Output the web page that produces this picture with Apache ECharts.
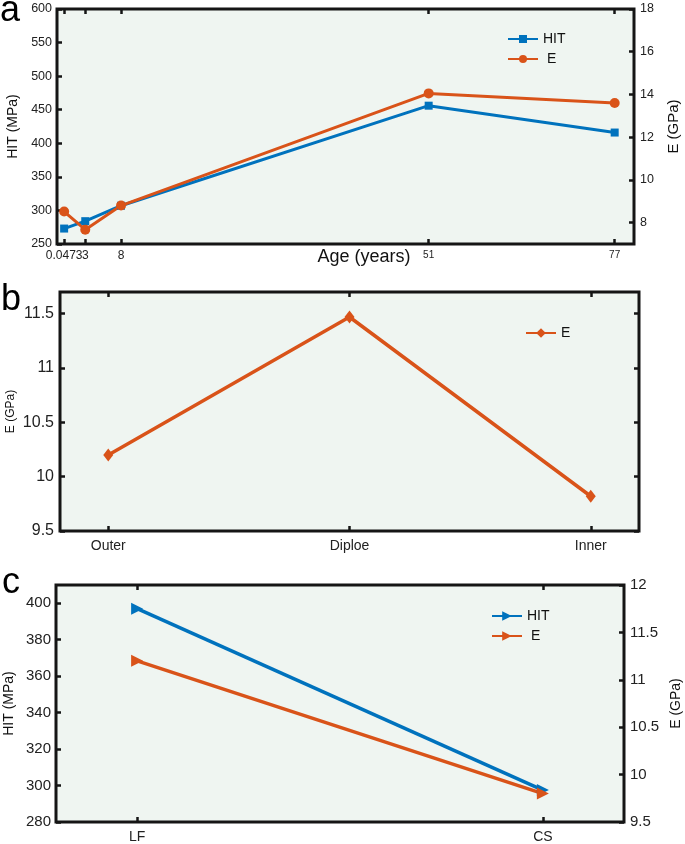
<!DOCTYPE html>
<html>
<head>
<meta charset="utf-8">
<script src="https://cdn.jsdelivr.net/npm/echarts@6/dist/echarts.min.js"></script>
<style>
html,body{margin:0;padding:0;background:#fff;}
#chart{width:685px;height:844px;}
</style>
</head>
<body>
<div id="chart"></div>
<script>
// ---- Panel a data ----
const ages = [0.0473, 3, 8, 51, 77];
const hitA = [273, 284, 307, 456, 416];
const eA = [8.52, 7.67, 8.8, 14.05, 13.6];
const hitTicksA = [250, 300, 350, 400, 450, 500, 550, 600];
const eTicksA = [8, 10, 12, 14, 16, 18];

// ---- Panel b data ----
const layers = ['Outer', 'Diploe', 'Inner'];
const eB = [10.2, 11.47, 9.82];
const eTicksB = [9.5, 10, 10.5, 11, 11.5];

// ---- Panel c data ----
const sites = ['LF', 'CS'];
const hitC = [397, 297.5];
const eC = [11.2, 9.8];
const hitTicksC = [280, 300, 320, 340, 360, 380, 400];
const eTicksC = [9.5, 10, 10.5, 11, 11.5, 12];

const BLUE = '#0072BD';
const ORANGE = '#D95319';
const FONT = '"Liberation Sans", Arial, Helvetica, sans-serif';
const INK = '#151515';

function tick(vals) {
  return { show: true, inside: true, length: 5, customValues: vals,
           lineStyle: { color: INK, width: 2.5 } };
}
function lbl(vals, size, margin, extra) {
  return Object.assign({ show: true, customValues: vals, margin: margin, hideOverlap: false,
    color: '#222', fontSize: size, fontFamily: FONT }, extra || {});
}
const noLbl = { show: false };
const noTick = { show: false };
const noLine = { show: false, onZero: false };
const noSplit = { show: false };

function gridOf(left, top, width, height) {
  return { left, top, width, height, show: true, backgroundColor: '#eff5f1',
           borderColor: INK, borderWidth: 3, containLabel: false, outerBoundsMode: 'none' };
}

const idxB = layers.map((_, i) => i);
const idxC = sites.map((_, i) => i);
const ageFmt = v => (v >= 51 ? '{s|' + v + '}' : String(v));
const ageRich = { s: { fontSize: 10, fontFamily: FONT, color: '#222' } };

const option = {
  animation: false,
  graphic: [
    { type: 'text', left: 0, top: -7, style: { text: 'a', font: '36px ' + FONT, fill: '#000' } },
    { type: 'text', left: 1, top: 282, style: { text: 'b', font: '36px ' + FONT, fill: '#000' } },
    { type: 'text', left: 2, top: 565, style: { text: 'c', font: '36px ' + FONT, fill: '#000' } }
  ],
  grid: [
    gridOf(57, 9, 577, 235),
    gridOf(60, 292, 579, 239),
    gridOf(56, 585, 568, 237)
  ],
  legend: [
    { orient: 'vertical', left: 502, top: 27, itemWidth: 30, itemHeight: 10, itemGap: 6,
      data: ['HIT', ' E'], textStyle: { fontSize: 14, fontFamily: FONT, color: '#111' } },
    { orient: 'vertical', left: 520, top: 321, itemWidth: 30, itemHeight: 12, itemGap: 6,
      data: ['E'], textStyle: { fontSize: 14, fontFamily: FONT, color: '#111' } },
    { orient: 'vertical', left: 486, top: 604, itemWidth: 30, itemHeight: 12, itemGap: 6,
      data: ['HIT ', ' E '], textStyle: { fontSize: 14, fontFamily: FONT, color: '#111' } }
  ],
  xAxis: [
    // 0: a bottom (ticks + first label + name)
    { gridIndex: 0, type: 'value', position: 'bottom', min: -0.95, max: 79.7,
      axisLine: noLine, splitLine: noSplit, axisTick: tick(ages),
      axisLabel: lbl(ages.slice(0, 1), 12, 6, { formatter: ageFmt, rich: ageRich }),
      name: 'Age (years)', nameLocation: 'middle', nameGap: 4, nameMoveOverlap: false,
      nameTextStyle: { fontSize: 18, fontFamily: FONT, color: '#111', padding: [0, 0, 0, 37], verticalAlign: 'top' } },
    // 1: a top
    { gridIndex: 0, type: 'value', position: 'top', min: -0.95, max: 79.7,
      axisLine: noLine, splitLine: noSplit, axisTick: tick(ages), axisLabel: noLbl },
    // 2: b bottom
    { gridIndex: 1, type: 'value', position: 'bottom', min: -0.2, max: 2.2,
      axisLine: noLine, splitLine: noSplit, axisTick: tick(idxB),
      axisLabel: lbl(idxB, 14, 8, { formatter: v => layers[Math.round(v)] }) },
    // 3: b top
    { gridIndex: 1, type: 'value', position: 'top', min: -0.2, max: 2.2,
      axisLine: noLine, splitLine: noSplit, axisTick: tick(idxB), axisLabel: noLbl },
    // 4: c bottom
    { gridIndex: 2, type: 'value', position: 'bottom', min: -0.2, max: 1.2,
      axisLine: noLine, splitLine: noSplit, axisTick: tick(idxC),
      axisLabel: lbl(idxC, 14, 8, { formatter: v => sites[Math.round(v)] }) },
    // 5: c top
    { gridIndex: 2, type: 'value', position: 'top', min: -0.2, max: 1.2,
      axisLine: noLine, splitLine: noSplit, axisTick: tick(idxC), axisLabel: noLbl },
    // 6: a bottom, remaining age labels (same scale, same side)
    { gridIndex: 0, type: 'value', position: 'bottom', offset: 0, min: -0.95, max: 79.7,
      axisLine: noLine, splitLine: noSplit, axisTick: noTick,
      axisLabel: lbl(ages.slice(1), 12, 6, { formatter: ageFmt, rich: ageRich }) }
  ],
  yAxis: [
    // a left
    { gridIndex: 0, type: 'value', position: 'left', min: 250, max: 600,
      axisLine: noLine, splitLine: noSplit, axisTick: tick(hitTicksA),
      axisLabel: lbl(hitTicksA, 12.5, 5),
      name: 'HIT (MPa)', nameLocation: 'middle', nameGap: 31,
      nameTextStyle: { fontSize: 14, fontFamily: FONT, color: '#111' } },
    // a right
    { gridIndex: 0, type: 'value', position: 'right', min: 7, max: 18,
      axisLine: noLine, splitLine: noSplit, axisTick: tick(eTicksA),
      axisLabel: lbl(eTicksA, 12.5, 6),
      name: 'E (GPa)', nameLocation: 'middle', nameGap: 32,
      nameTextStyle: { fontSize: 15, fontFamily: FONT, color: '#111' } },
    // b left
    { gridIndex: 1, type: 'value', position: 'left', min: 9.5, max: 11.7,
      axisLine: noLine, splitLine: noSplit, axisTick: tick(eTicksB),
      axisLabel: lbl(eTicksB, 16, 6),
      name: 'E (GPa)', nameLocation: 'middle', nameGap: 43, nameMoveOverlap: false,
      nameTextStyle: { fontSize: 12, fontFamily: FONT, color: '#111' } },
    // b right (ticks only)
    { gridIndex: 1, type: 'value', position: 'right', min: 9.5, max: 11.7,
      axisLine: noLine, splitLine: noSplit, axisTick: tick(eTicksB), axisLabel: noLbl },
    // c left
    { gridIndex: 2, type: 'value', position: 'left', min: 280, max: 410,
      axisLine: noLine, splitLine: noSplit, axisTick: tick(hitTicksC),
      axisLabel: lbl(hitTicksC, 15, 5),
      name: 'HIT (MPa)', nameLocation: 'middle', nameGap: 40, nameMoveOverlap: false,
      nameTextStyle: { fontSize: 14, fontFamily: FONT, color: '#111' } },
    // c right
    { gridIndex: 2, type: 'value', position: 'right', min: 9.5, max: 12,
      axisLine: noLine, splitLine: noSplit, axisTick: tick(eTicksC),
      axisLabel: lbl(eTicksC, 15, 6),
      name: 'E (GPa)', nameLocation: 'middle', nameGap: 45, nameMoveOverlap: false,
      nameTextStyle: { fontSize: 14, fontFamily: FONT, color: '#111' } }
  ],
  series: [
    { name: 'HIT', type: 'line', xAxisIndex: 0, yAxisIndex: 0,
      data: ages.map((a, i) => [a, hitA[i]]),
      symbol: 'rect', symbolSize: 8, color: BLUE,
      lineStyle: { width: 3, color: BLUE }, itemStyle: { color: BLUE } },
    { name: ' E', type: 'line', xAxisIndex: 0, yAxisIndex: 1,
      data: ages.map((a, i) => [a, eA[i]]),
      symbol: 'circle', symbolSize: 10, color: ORANGE,
      lineStyle: { width: 3, color: ORANGE }, itemStyle: { color: ORANGE } },
    { name: 'E', type: 'line', xAxisIndex: 2, yAxisIndex: 2,
      data: idxB.map(i => [i, eB[i]]),
      symbol: 'diamond', symbolSize: [10, 13], color: ORANGE,
      lineStyle: { width: 3.5, color: ORANGE }, itemStyle: { color: ORANGE } },
    { name: 'HIT ', type: 'line', xAxisIndex: 4, yAxisIndex: 4,
      data: idxC.map(i => [i, hitC[i]]),
      symbol: 'triangle', symbolSize: 12, symbolRotate: -90, color: BLUE,
      lineStyle: { width: 3.5, color: BLUE }, itemStyle: { color: BLUE } },
    { name: ' E ', type: 'line', xAxisIndex: 4, yAxisIndex: 5,
      data: idxC.map(i => [i, eC[i]]),
      symbol: 'triangle', symbolSize: 12, symbolRotate: -90, color: ORANGE,
      lineStyle: { width: 3.5, color: ORANGE }, itemStyle: { color: ORANGE } }
  ]
};

const chart = echarts.init(document.getElementById('chart'), null, { renderer: 'canvas' });
chart.setOption(option);
</script>
</body>
</html>
